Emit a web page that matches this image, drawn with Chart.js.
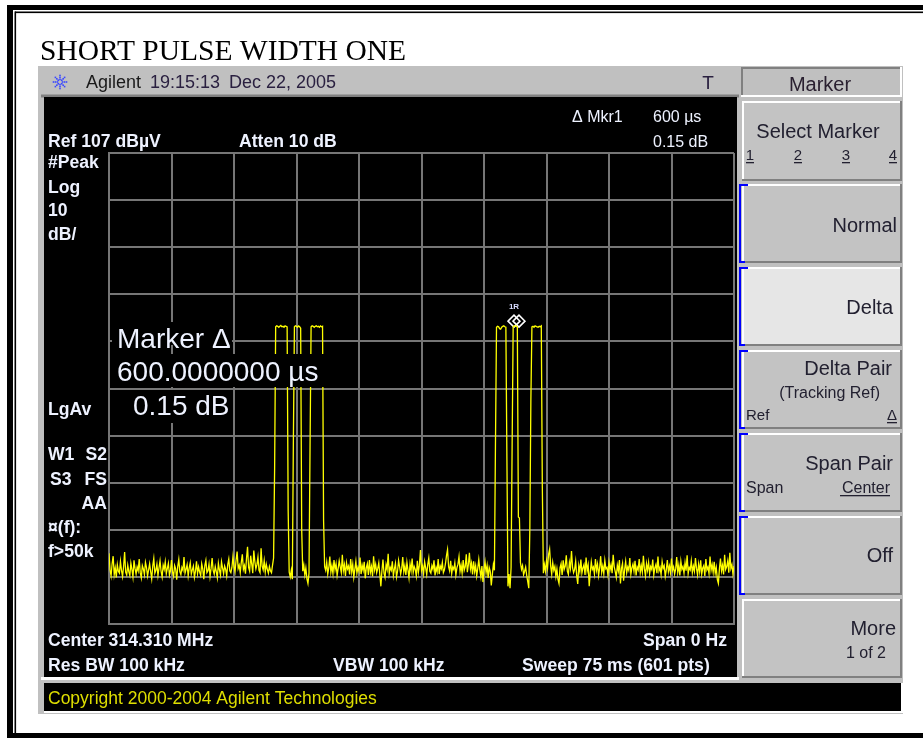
<!DOCTYPE html>
<html>
<head>
<meta charset="utf-8">
<title>SHORT PULSE WIDTH ONE</title>
<script src="https://cdn.jsdelivr.net/npm/chart.js@4.4.1/dist/chart.umd.min.js"></script>
<style>
  html, body { margin: 0; padding: 0; background: #fff; }
  canvas { display: block; }
</style>
</head>
<body>
<canvas id="myChart" width="923" height="738"></canvas>
<script>
// sweep settings as shown on the analyzer screen
const sweepMs = 75;       // Sweep 75 ms
const sweepPts = 601;     // (601 pts)
const refLevel = 107;     // Ref 107 dBuV (top line)
const dbPerDiv = 10;      // Log 10 dB/
const divisions = 10;

// trace level in dBuV, one value per sweep point
const trace = [
  22.0, 18.5, 17.2, 19.8, 21.4, 17.5, 18.9, 16.9, 19.6, 18.2, 17.8, 20.3, 18.4, 17.1, 19.2, 22.3, 18.0, 17.4, 19.5, 18.1,
  17.3, 19.9, 18.6, 17.0, 20.5, 18.8, 17.6, 19.1, 18.3, 20.8, 17.9, 16.8, 19.4, 18.7, 17.5, 20.1, 19.0, 17.2, 18.5, 19.8,
  18.1, 16.6, 19.3, 20.9, 17.8, 18.4, 19.7, 17.3, 18.9, 20.4, 18.2, 17.0, 19.5, 18.6, 20.2, 17.7, 18.8, 19.9, 17.4, 18.3,
  20.6, 18.0, 17.1, 19.4, 18.7, 16.4, 19.2, 20.7, 18.1, 17.5, 19.0, 18.4, 21.2, 17.8, 18.6, 19.6, 17.2, 18.9, 20.0, 17.6,
  18.5, 19.3, 16.9, 18.2, 20.3, 17.7, 19.1, 18.0, 17.3, 19.8, 18.7, 16.5, 19.4, 20.5, 17.9, 18.3, 19.7, 17.1, 18.8, 21.0,
  18.4, 17.6, 19.2, 18.1, 16.8, 19.9, 18.5, 17.4, 20.2, 18.9, 17.7, 19.3, 18.6, 17.2, 19.6, 20.8, 18.3, 17.9, 19.0, 21.3,
  19.2, 18.1, 20.6, 22.4, 18.8, 19.5, 17.9, 20.1, 21.8, 18.6, 19.4, 17.7, 20.9, 23.4, 19.0, 18.2, 21.5, 19.8, 17.8, 22.6,
  20.3, 18.7, 19.6, 21.2, 18.4, 17.9, 23.1, 19.3, 18.5, 20.4, 18.0, 19.7, 18.6, 17.8, 19.2, 18.3, 17.9, 19.5, 21.0, 40.1,
  70.1, 70.3, 70.2, 70.0, 70.2, 70.4, 70.1, 70.2, 70.0, 70.3, 70.2, 70.1, 31.0, 18.0, 17.0, 18.4, 16.5, 46.0, 70.1, 70.3,
  70.2, 70.0, 70.3, 70.1, 69.8, 27.0, 18.2, 19.5, 17.4, 18.9, 16.6, 15.6, 17.8, 44.6, 70.1, 70.3, 70.2, 70.0, 70.2, 70.3,
  70.1, 70.2, 70.0, 70.3, 70.1, 70.2, 29.0, 19.2, 18.4, 20.1, 17.6, 18.9, 21.3, 18.0, 19.4, 17.7, 20.6, 18.5, 19.8, 17.3,
  18.8, 20.4, 19.1, 17.9, 21.7, 18.3, 19.6, 17.2, 20.0, 18.7, 19.3, 17.5, 20.8, 18.1, 19.7, 16.9, 18.6, 20.3, 17.8, 19.0,
  18.2, 21.1, 17.6, 19.5, 18.4, 20.2, 16.7, 18.9, 19.8, 17.4, 20.6, 18.0, 19.2, 17.1, 21.4, 18.5, 19.7, 17.9, 18.8, 20.0,
  17.5, 15.0, 18.3, 20.7, 17.8, 16.9, 19.6, 18.6, 21.9, 17.7, 19.0, 18.4, 20.3, 17.3, 18.7, 19.9, 17.0, 18.2, 20.5, 19.1,
  17.6, 18.8, 21.2, 18.1, 19.4, 17.4, 20.1, 18.5, 16.8, 19.7, 18.3, 20.9, 17.9, 19.2, 18.6, 17.2, 20.4, 18.0, 19.5, 22.7,
  18.4, 19.3, 17.7, 20.2, 18.9, 17.5, 19.6, 21.0, 18.2, 17.8, 19.4, 18.6, 20.5, 17.3, 19.0, 18.1, 20.8, 17.6, 19.3, 18.7,
  20.1, 17.9, 18.5, 19.8, 21.5, 22.8, 19.2, 18.3, 20.4, 17.7, 19.1, 18.6, 20.0, 17.4, 18.9, 19.7, 21.3, 18.2, 19.5, 17.8,
  20.6, 18.4, 19.2, 21.8, 18.0, 19.6, 22.1, 18.7, 19.9, 17.5, 20.3, 18.1, 19.4, 17.2, 18.8, 20.7, 18.5, 17.0, 19.3, 15.9,
  18.6, 20.2, 17.9, 19.4, 16.8, 19.0, 18.2, 15.2, 17.5, 19.6, 18.4, 45.0, 70.0, 70.2, 70.1, 69.7, 69.6, 70.0, 70.2, 70.3,
  70.1, 70.0, 41.8, 15.0, 17.6, 14.6, 19.0, 44.8, 70.1, 70.3, 70.2, 70.3, 70.0, 29.7, 29.5, 20.0, 18.6, 19.4, 17.5, 18.2,
  19.1, 17.3, 16.0, 14.6, 27.0, 54.6, 70.1, 70.2, 70.0, 70.3, 70.2, 70.1, 70.0, 70.2, 70.1, 70.3, 36.0, 17.8, 19.6, 18.2,
  20.4, 18.9, 21.8, 22.9, 19.3, 17.6, 20.0, 18.4, 19.2, 17.1, 18.7, 16.5, 15.6, 18.9, 19.8, 17.4, 20.5, 18.6, 19.3, 21.6,
  18.2, 17.5, 20.1, 18.8, 22.5, 19.0, 17.9, 18.6, 20.3, 17.2, 15.5, 19.4, 18.1, 20.7, 17.8, 18.9, 19.6, 17.4, 21.1, 18.3,
  19.5, 15.0, 17.9, 20.2, 18.6, 19.1, 17.6, 20.8, 18.4, 19.7, 17.3, 18.9, 21.4, 18.0, 19.3, 17.7, 20.5, 18.7, 19.0, 17.4,
  20.1, 18.5, 19.6, 17.8, 21.7, 19.2, 18.1, 16.9, 19.5, 18.3, 20.6, 15.6, 18.8, 19.9, 16.2, 18.6, 20.3, 17.9, 19.1, 18.4,
  21.0, 17.6, 18.9, 19.7, 18.2, 20.4, 17.3, 19.1, 18.5, 20.8, 17.9, 19.4, 18.0, 21.5, 18.7, 17.2, 19.8, 18.4, 20.1, 17.7,
  19.2, 18.6, 20.7, 17.4, 18.9, 19.6, 17.8, 21.3, 18.3, 19.0, 17.5, 20.2, 18.8, 19.4, 17.1, 18.5, 20.6, 18.1, 19.3, 17.9,
  20.9, 18.4, 19.1, 17.6, 18.7, 21.2, 18.0, 19.5, 17.3, 20.3, 18.6, 19.2, 17.8, 20.0, 18.3, 21.6, 17.7, 19.0, 18.5, 20.4,
  17.9, 19.3, 18.2, 21.0, 18.8, 17.4, 19.7, 18.1, 20.5, 17.6, 18.9, 19.4, 17.2, 20.8, 18.5, 19.1, 17.7, 21.3, 18.4, 19.6,
  18.0, 20.2, 17.8, 19.0, 16.4, 15.6, 18.7, 20.9, 18.3, 19.5, 17.5, 21.7, 18.6, 19.2, 20.4, 17.9, 22.1, 18.8, 19.6, 17.6, 19.3
];

// marker 1R (reference) and marker 1 (delta), 600 us apart
const markerTimes = [48.6, 49.2];   // ms
const markerLevels = [71.3, 71.3];  // dBuV

const tracePts = trace.map((v, i) => ({ x: i * sweepMs / (sweepPts - 1), y: v }));
const markerPts = markerTimes.map((t, i) => ({ x: t, y: markerLevels[i] }));

const SANS = '"Liberation Sans", Arial, sans-serif';
const gridColor = '#767676';
const labelColor = '#eef2ff';

function txt(c, s, x, y, font, color, align) {
  c.font = font;
  c.fillStyle = color;
  c.textAlign = align || 'left';
  c.textBaseline = 'alphabetic';
  c.fillText(s, x, y);
}

function uline(c, x1, x2, y, color) {
  c.fillStyle = color;
  c.fillRect(x1, y, x2 - x1, 1.3);
}

function softkey(c, top, bot, fill) {
  c.fillStyle = fill;
  c.fillRect(742, top, 160, bot - top);
  c.fillStyle = '#ffffff';
  c.fillRect(742, top, 160, 2);
  c.fillRect(742, top, 2, bot - top);
  c.fillStyle = '#808080';
  c.fillRect(742, bot - 2, 160, 2);
  c.fillRect(900, top, 2, bot - top);
}

function bracket(c, top, bot) {
  c.fillStyle = '#0000ff';
  c.fillRect(739, top, 2, bot - top);
  c.fillRect(739, top, 9, 2);
  c.fillRect(739, bot - 2, 6, 2);
}

const screenDeco = {
  id: 'screenDeco',
  beforeDraw(chart) {
    const c = chart.ctx;
    c.save();
    c.fillStyle = '#ffffff';
    c.fillRect(0, 0, 923, 738);

    // page frame
    c.fillStyle = '#000';
    c.fillRect(7, 5, 916, 5);
    c.fillRect(7, 5, 6, 733);
    c.fillRect(15, 11.5, 908, 1.6);
    c.fillRect(14.5, 11.5, 1.6, 722);
    c.fillRect(7, 733, 916, 5);

    txt(c, 'SHORT PULSE WIDTH ONE', 40, 60, '29.5px "Liberation Serif", "Times New Roman", serif', '#000');

    // instrument body
    c.fillStyle = '#c0c0c0';
    c.fillRect(38, 66, 865, 648);

    // header line
    c.fillStyle = '#3a48ff';
    for (let k = 0; k < 8; k++) {
      const a = k * Math.PI / 4;
      for (const r of [2.5, 4.5, 6.5]) {
        c.fillRect(60 + Math.cos(a) * r - 0.8, 82 + Math.sin(a) * r - 0.8, 1.6, 1.6);
      }
    }
    txt(c, 'Agilent', 86, 88, '18px ' + SANS, '#1a1a1a');
    txt(c, '19:15:13', 150, 88, '18px ' + SANS, '#2a2040');
    txt(c, 'Dec 22, 2005', 229, 88, '18px ' + SANS, '#2a2040');
    txt(c, 'T', 708, 89, '19px ' + SANS, '#2a2040', 'center');

    // display area
    c.fillStyle = '#808080';
    c.fillRect(41, 94.5, 698, 3);
    c.fillStyle = '#000';
    c.fillRect(44, 97, 693, 580);
    c.fillStyle = '#ffffff';
    c.fillRect(41, 677, 698, 3);

    // copyright bar
    c.fillStyle = '#000';
    c.fillRect(44, 683, 857, 28);
    c.fillStyle = '#ffffff';
    c.fillRect(901, 683, 2, 30);
    c.fillRect(44, 711, 859, 2);
    txt(c, 'Copyright 2000-2004 Agilent Technologies', 48, 704, '17.5px ' + SANS, '#dede00');

    // softkey menu
    c.fillStyle = '#808080';
    c.fillRect(741, 67, 161, 2);
    c.fillRect(741, 67, 2, 29);
    c.fillStyle = '#ffffff';
    c.fillRect(741, 95, 161, 2);
    c.fillRect(900, 67, 2, 30);
    txt(c, 'Marker', 820, 91, '20px ' + SANS, '#2a2030', 'center');

    const keys = [[101, 181], [184, 263], [267, 346], [350, 429], [433, 512], [516, 595], [599, 678]];
    keys.forEach((k, i) => softkey(c, k[0], k[1], i === 2 ? '#e6e6e6' : '#c3c3c3'));
    keys.slice(1, 6).forEach(k => bracket(c, k[0], k[1]));

    const kc = '#222030';
    txt(c, 'Select Marker', 818, 138, '20px ' + SANS, kc, 'center');
    [['1', 750], ['2', 798], ['3', 846], ['4', 893]].forEach(p => {
      txt(c, p[0], p[1], 160, '15px ' + SANS, kc, 'center');
      uline(c, p[1] - 4, p[1] + 4, 162, kc);
    });
    txt(c, 'Normal', 897, 232, '20px ' + SANS, kc, 'right');
    txt(c, 'Delta', 893, 314, '20px ' + SANS, kc, 'right');
    txt(c, 'Delta Pair', 892, 375, '20px ' + SANS, kc, 'right');
    txt(c, '(Tracking Ref)', 880, 398, '16px ' + SANS, kc, 'right');
    txt(c, 'Ref', 746, 420, '15px ' + SANS, kc);
    txt(c, '\u0394', 897, 420, '15px ' + SANS, kc, 'right');
    uline(c, 887, 897, 422, kc);
    txt(c, 'Span Pair', 893, 470, '20px ' + SANS, kc, 'right');
    txt(c, 'Span', 746, 493, '16px ' + SANS, kc);
    txt(c, 'Center', 890, 493, '16px ' + SANS, kc, 'right');
    uline(c, 840, 890, 495, kc);
    txt(c, 'Off', 893, 562, '20px ' + SANS, kc, 'right');
    txt(c, 'More', 896, 635, '20px ' + SANS, kc, 'right');
    txt(c, '1 of 2', 886, 658, '16px ' + SANS, kc, 'right');

    // annotation around the graticule
    const B = 'bold 17.6px ' + SANS;
    txt(c, 'Ref 107 dB\u00b5V', 48, 147, B, labelColor);
    txt(c, 'Atten 10 dB', 239, 147, B, labelColor);
    txt(c, '\u0394 Mkr1', 572, 122, '16px ' + SANS, labelColor);
    txt(c, '600 \u00b5s', 653, 122, '16px ' + SANS, labelColor);
    txt(c, '0.15 dB', 653, 147, '16px ' + SANS, labelColor);
    txt(c, '#Peak', 48, 168, B, labelColor);
    txt(c, 'Log', 48, 193, B, labelColor);
    txt(c, '10', 48, 216, B, labelColor);
    txt(c, 'dB/', 48, 240, B, labelColor);
    txt(c, 'LgAv', 48, 415, B, labelColor);
    txt(c, 'W1', 48, 460, B, labelColor);
    txt(c, 'S2', 107, 460, B, labelColor, 'right');
    txt(c, 'S3', 50, 485, B, labelColor);
    txt(c, 'FS', 107, 485, B, labelColor, 'right');
    txt(c, 'AA', 107, 509, B, labelColor, 'right');
    txt(c, '\u00a4(f):', 48, 533, B, labelColor);
    txt(c, 'f>50k', 48, 557, B, labelColor);
    txt(c, 'Center 314.310 MHz', 48, 646, B, labelColor);
    txt(c, 'Span 0 Hz', 727, 646, B, labelColor, 'right');
    txt(c, 'Res BW 100 kHz', 48, 671, B, labelColor);
    txt(c, 'VBW 100 kHz', 333, 671, B, labelColor);
    txt(c, 'Sweep 75 ms (601 pts)', 522, 671, B, labelColor);
    c.restore();
  },
  afterDatasetsDraw(chart) {
    const c = chart.ctx;
    c.save();
    // marker readout drawn over the graticule on black boxes
    c.fillStyle = '#000';
    c.fillRect(112, 322, 120, 23);
    c.fillRect(112, 354, 218, 33);
    c.fillRect(130, 390, 103, 33);
    const M = '28px ' + SANS;
    txt(c, 'Marker \u0394', 117, 348, M, labelColor);
    txt(c, '600.0000000 \u00b5s', 117, 381, M, labelColor);
    txt(c, '0.15 dB', 133, 415, M, labelColor);

    const xs = chart.scales.x, ys = chart.scales.y;
    txt(c, '1R', xs.getPixelForValue(markerTimes[0]), ys.getPixelForValue(markerLevels[0]) - 12,
      'bold 8px ' + SANS, '#d8dcff', 'center');
    c.restore();
  }
};

new Chart(document.getElementById('myChart'), {
  type: 'line',
  data: {
    datasets: [
      {
        label: 'Trace',
        data: tracePts,
        borderColor: '#ffff00',
        borderWidth: 1.3,
        pointRadius: 0,
        tension: 0,
        fill: false
      },
      {
        label: 'Markers',
        data: markerPts,
        showLine: false,
        pointStyle: 'rectRot',
        pointRadius: 6,
        borderColor: '#ffffff',
        borderWidth: 1.5,
        backgroundColor: 'rgba(0,0,0,0)'
      }
    ]
  },
  options: {
    responsive: false,
    animation: false,
    events: [],
    layout: { padding: { left: 109, top: 153, right: 189, bottom: 114 } },
    plugins: {
      legend: { display: false },
      tooltip: { enabled: false }
    },
    scales: {
      x: {
        type: 'linear',
        min: 0,
        max: sweepMs,
        ticks: { display: false, stepSize: sweepMs / divisions },
        grid: { color: gridColor, lineWidth: 2, drawTicks: false },
        border: { color: gridColor, width: 2 },
        afterFit: s => { s.height = 0; }
      },
      y: {
        type: 'linear',
        min: refLevel - dbPerDiv * divisions,
        max: refLevel,
        ticks: { display: false, stepSize: dbPerDiv },
        grid: { color: gridColor, lineWidth: 2, drawTicks: false },
        border: { color: gridColor, width: 2 },
        afterFit: s => { s.width = 0; }
      }
    }
  },
  plugins: [screenDeco]
});
</script>
</body>
</html>
